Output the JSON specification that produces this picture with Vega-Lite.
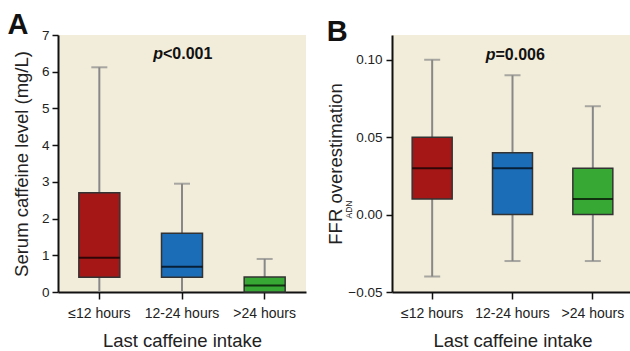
{
  "$schema": "https://vega.github.io/schema/vega-lite/v6.json",
  "background": "white",
  "padding": {"left": 7, "top": 11, "right": 0, "bottom": 0},
  "spacing": 20,
  "datasets": {
    "a": [
      {"group": "≤12 hours", "lo": 0, "q1": 0.4, "med": 0.93, "q3": 2.7, "hi": 6.12},
      {"group": "12-24 hours", "lo": 0, "q1": 0.4, "med": 0.69, "q3": 1.6, "hi": 2.95},
      {"group": ">24 hours", "lo": 0, "q1": 0.0, "med": 0.18, "q3": 0.41, "hi": 0.9}
    ],
    "b": [
      {"group": "≤12 hours", "lo": -0.04, "q1": 0.01, "med": 0.03, "q3": 0.05, "hi": 0.10},
      {"group": "12-24 hours", "lo": -0.03, "q1": 0.0, "med": 0.03, "q3": 0.04, "hi": 0.09},
      {"group": ">24 hours", "lo": -0.03, "q1": 0.0, "med": 0.01, "q3": 0.03, "hi": 0.07}
    ],
    "pa": [{"group": "12-24 hours", "y": 6.47, "t1": "p", "t2": "<0.001"}],
    "pb": [{"group": "12-24 hours", "y": 0.103, "t1": "p", "t2": "=0.006"}]
  },
  "config": {
    "font": "Liberation Sans, sans-serif",
    "view": {"stroke": null, "fill": "#f2edda"},
    "axis": {
      "grid": false,
      "domainColor": "#111",
      "domainWidth": 2,
      "tickColor": "#111",
      "tickWidth": 1.5,
      "tickSize": 6,
      "labelColor": "#222",
      "labelFont": "Liberation Sans, sans-serif",
      "labelOverlap": false,
      "titleColor": "#222",
      "titleFont": "Liberation Sans, sans-serif",
      "titleFontWeight": "normal",
      "titleFontSize": 18.5
    },
    "title": {
      "font": "Liberation Sans, sans-serif",
      "fontSize": 29,
      "fontWeight": "bold",
      "anchor": "start",
      "baseline": "alphabetic",
      "color": "#111",
      "offset": -4,
      "dy": 8
    }
  },
  "hconcat": [
    {
      "title": {"text": "A", "dx": -5},
      "width": 248,
      "height": 257,
      "data": {"name": "a"},
      "encoding": {
        "x": {
          "field": "group", "type": "nominal",
          "sort": ["≤12 hours", "12-24 hours", ">24 hours"],
          "scale": {"paddingInner": 0, "paddingOuter": 0},
          "axis": {"title": "Last caffeine intake", "labelAngle": 0, "labelFontSize": 14, "labelPadding": 7, "tickSize": 7, "titlePadding": 11}
        }
      },
      "layer": [
        {
          "mark": {"type": "rule", "color": "#888", "strokeWidth": 2},
          "encoding": {
            "y": {"field": "lo", "type": "quantitative", "scale": {"domain": [0, 7], "nice": false},
              "axis": {"title": "Serum caffeine level (mg/L)", "values": [0, 1, 2, 3, 4, 5, 6, 7], "tickCount": 8, "labelOverlap": false, "labelFontSize": 13.5, "labelPadding": 3, "titlePadding": 10}},
            "y2": {"field": "hi"}
          }
        },
        {
          "mark": {"type": "tick", "color": "#888", "thickness": 2, "size": 16, "orient": "horizontal"},
          "encoding": {"y": {"field": "hi", "type": "quantitative",
              "axis": {"title": "Serum caffeine level (mg/L)", "values": [0, 1, 2, 3, 4, 5, 6, 7], "tickCount": 8, "labelOverlap": false, "labelFontSize": 13.5, "labelPadding": 3, "titlePadding": 10}}}
        },
        {
          "mark": {"type": "bar", "size": 41, "stroke": "#333", "strokeWidth": 1.5},
          "encoding": {
            "y": {"field": "q1", "type": "quantitative",
              "axis": {"title": "Serum caffeine level (mg/L)", "values": [0, 1, 2, 3, 4, 5, 6, 7], "tickCount": 8, "labelOverlap": false, "labelFontSize": 13.5, "labelPadding": 3, "titlePadding": 10}},
            "y2": {"field": "q3"},
            "color": {"field": "group", "type": "nominal",
              "scale": {"domain": ["≤12 hours", "12-24 hours", ">24 hours"], "range": ["#a51616", "#1c6db7", "#38a834"]},
              "legend": null}
          }
        },
        {
          "mark": {"type": "tick", "color": "#000", "thickness": 2, "size": 41, "orient": "horizontal"},
          "encoding": {"y": {"field": "med", "type": "quantitative",
              "axis": {"title": "Serum caffeine level (mg/L)", "values": [0, 1, 2, 3, 4, 5, 6, 7], "tickCount": 8, "labelOverlap": false, "labelFontSize": 13.5, "labelPadding": 3, "titlePadding": 10}}}
        },
        {
          "data": {"name": "pa"},
          "mark": {"type": "text", "align": "right", "baseline": "middle", "fontSize": 16, "fontWeight": "bold", "fontStyle": "italic", "dx": -19, "color": "#111"},
          "encoding": {"y": {"field": "y", "type": "quantitative",
              "axis": {"title": "Serum caffeine level (mg/L)", "values": [0, 1, 2, 3, 4, 5, 6, 7], "tickCount": 8, "labelOverlap": false, "labelFontSize": 13.5, "labelPadding": 3, "titlePadding": 10}}, "text": {"field": "t1"}}
        },
        {
          "data": {"name": "pa"},
          "mark": {"type": "text", "align": "left", "baseline": "middle", "fontSize": 16, "fontWeight": "bold", "dx": -19, "color": "#111"},
          "encoding": {"y": {"field": "y", "type": "quantitative",
              "axis": {"title": "Serum caffeine level (mg/L)", "values": [0, 1, 2, 3, 4, 5, 6, 7], "tickCount": 8, "labelOverlap": false, "labelFontSize": 13.5, "labelPadding": 3, "titlePadding": 10}}, "text": {"field": "t2"}}
        }
      ]
    },
    {
      "title": {"text": "B", "dx": 0},
      "width": 241,
      "height": 257,
      "data": {"name": "b"},
      "encoding": {
        "x": {
          "field": "group", "type": "nominal",
          "sort": ["≤12 hours", "12-24 hours", ">24 hours"],
          "scale": {"paddingInner": 0, "paddingOuter": 0},
          "axis": {"title": "Last caffeine intake", "labelAngle": 0, "labelFontSize": 14, "labelPadding": 7, "tickSize": 7, "titlePadding": 11}
        }
      },
      "resolve": {"scale": {"y": "independent"}},
      "layer": [
        {
          "layer": [
            {
              "mark": {"type": "rule", "color": "#888", "strokeWidth": 2},
              "encoding": {
                "y": {"field": "lo", "type": "quantitative", "scale": {"domain": [-0.05, 0.116], "nice": false},
                  "axis": {"title": "FFR     overestimation", "values": [-0.05, 0, 0.05, 0.1], "format": ".2f", "labelFontSize": 13.5, "labelPadding": 4, "titlePadding": 2}},
                "y2": {"field": "hi"}
              }
            },
            {
              "mark": {"type": "tick", "color": "#888", "thickness": 2, "size": 16, "orient": "horizontal"},
              "encoding": {"y": {"field": "hi", "type": "quantitative"}}
            },
            {
              "mark": {"type": "tick", "color": "#888", "thickness": 2, "size": 16, "orient": "horizontal"},
              "encoding": {"y": {"field": "lo", "type": "quantitative"}}
            },
            {
              "mark": {"type": "bar", "size": 40, "stroke": "#333", "strokeWidth": 1.5},
              "encoding": {
                "y": {"field": "q1", "type": "quantitative"},
                "y2": {"field": "q3"},
                "color": {"field": "group", "type": "nominal",
                  "scale": {"domain": ["≤12 hours", "12-24 hours", ">24 hours"], "range": ["#a51616", "#1c6db7", "#38a834"]},
                  "legend": null}
              }
            },
            {
              "mark": {"type": "tick", "color": "#000", "thickness": 2, "size": 40, "orient": "horizontal"},
              "encoding": {"y": {"field": "med", "type": "quantitative"}}
            },
            {
              "data": {"name": "pb"},
              "mark": {"type": "text", "align": "right", "baseline": "middle", "fontSize": 16, "fontWeight": "bold", "fontStyle": "italic", "dx": -17, "color": "#111"},
              "encoding": {"y": {"field": "y", "type": "quantitative"}, "text": {"field": "t1"}}
            },
            {
              "data": {"name": "pb"},
              "mark": {"type": "text", "align": "left", "baseline": "middle", "fontSize": 16, "fontWeight": "bold", "dx": -17, "color": "#111"},
              "encoding": {"y": {"field": "y", "type": "quantitative"}, "text": {"field": "t2"}}
            }
          ]
        },
        {
          "mark": {"type": "point", "opacity": 0},
          "encoding": {
            "y": {"field": "med", "type": "quantitative", "scale": {"domain": [-0.05, 0.116], "nice": false},
              "axis": {"orient": "left", "domain": false, "ticks": false, "labels": false, "title": "ADN", "titleFont": "Liberation Sans, sans-serif", "titleFontSize": 8.5, "titleX": -41, "titleY": 174, "titleBaseline": "alphabetic", "titleAngle": -90, "titleAlign": "center"}}
          }
        }
      ]
    }
  ]
}
